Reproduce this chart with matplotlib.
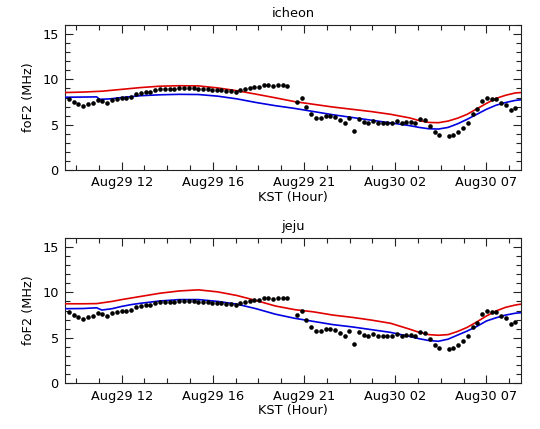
import numpy as np
import matplotlib
matplotlib.use("Agg")
import matplotlib.pyplot as plt
from matplotlib.ticker import FixedLocator, MultipleLocator

# ---- observed foF2 (same in both panels), hours since Aug29 00 KST ----
obs_t = [9.25, 9.5, 9.75, 10.0, 10.25, 10.5, 10.75, 11.0, 11.25, 11.5, 11.75, 12.0,
         12.25, 12.5, 12.75, 13.0, 13.25, 13.5, 13.75, 14.0, 14.25, 14.5, 14.75, 15.0,
         15.26, 15.5, 15.75, 15.99, 16.23, 16.48, 16.72, 16.96, 17.2, 17.45, 17.69, 17.93,
         18.17, 18.42, 18.66, 18.9, 19.15, 19.39, 19.63, 19.88, 20.14, 20.38, 20.62,
         21.11, 21.37, 21.61, 21.87, 22.11, 22.37, 22.62, 22.86, 23.1, 23.35, 23.61, 23.85,
         24.09, 24.35, 24.6, 24.84, 25.08, 25.34, 25.59, 25.83, 26.09, 26.33, 26.58, 26.82,
         27.06, 27.3, 27.56, 27.8, 28.05, 28.31, 28.55, 29.04, 29.28, 29.54, 29.78, 30.03,
         30.29, 30.53, 30.77, 31.02, 31.28, 31.52, 31.78, 32.02, 32.27, 32.51]
obs_v = [7.89, 7.48, 7.26, 7.11, 7.33, 7.44, 7.77, 7.66, 7.41, 7.70, 7.85, 7.92,
         7.96, 8.07, 8.36, 8.54, 8.58, 8.65, 8.80, 8.98, 8.91, 8.91, 8.91, 9.09,
         9.06, 9.06, 9.02, 8.98, 8.98, 8.91, 8.87, 8.80, 8.80, 8.76, 8.73, 8.62,
         8.80, 8.91, 9.06, 9.20, 9.17, 9.35, 9.39, 9.28, 9.39, 9.39, 9.32,
         7.52, 8.00, 6.97, 6.23, 5.76, 5.76, 6.01, 5.98, 5.87, 5.57, 5.17, 5.76,
         4.33, 5.61, 5.32, 5.24, 5.43, 5.17, 5.24, 5.21, 5.24, 5.39, 5.24, 5.32,
         5.35, 5.21, 5.68, 5.50, 4.88, 4.22, 3.85, 3.74, 3.85, 4.22, 4.66, 5.24,
         6.23, 6.68, 7.59, 8.00, 7.81, 7.81, 7.44, 7.22, 6.57, 6.79]

# ---- model curves ----
icheon_red_t = [9.05, 10, 11, 12, 13, 14, 15, 16, 17, 18, 19, 20, 21, 22, 23, 24, 25, 26,
                27, 27.5, 28, 28.5, 29, 29.5, 30, 30.5, 31, 31.5, 32, 32.5, 32.8]
icheon_red_v = [8.55, 8.6, 8.7, 8.9, 9.1, 9.25, 9.3, 9.28, 9.06, 8.75, 8.37, 7.97, 7.55,
                7.25, 6.95, 6.7, 6.45, 6.15, 5.75, 5.45, 5.25, 5.22, 5.4, 5.72, 6.15, 6.75,
                7.35, 7.9, 8.25, 8.5, 8.55]
icheon_blue_t = [9.05, 10, 10.7, 10.85, 11.4, 12, 13, 14, 15, 16, 17, 18, 19, 20, 21, 22,
                 23, 24, 25, 26, 27, 27.5, 28, 28.5, 29, 29.5, 30, 30.5, 31, 31.5, 32, 32.5, 32.8]
icheon_blue_v = [8.03, 8.05, 8.07, 7.8, 7.85, 8.0, 8.2, 8.3, 8.35, 8.33, 8.15, 7.85, 7.45,
                 7.1, 6.8, 6.45, 6.1, 5.8, 5.5, 5.2, 4.9, 4.7, 4.55, 4.52, 4.7, 5.1, 5.6,
                 6.15, 6.7, 7.15, 7.45, 7.68, 7.75]

jeju_red_t = [9.05, 10, 10.7, 11.5, 12, 13, 14, 15, 16, 17, 18, 19, 20, 21, 22, 23, 24, 25,
              26, 27, 27.5, 28, 28.5, 29, 29.5, 30, 30.5, 31, 31.5, 32, 32.5, 32.8]
jeju_red_v = [8.74, 8.74, 8.76, 9.0, 9.2, 9.55, 9.9, 10.15, 10.27, 10.05, 9.65, 9.1, 8.5,
              8.1, 7.85, 7.5, 7.25, 6.95, 6.6, 5.95, 5.6, 5.35, 5.28, 5.35, 5.7, 6.15, 6.75,
              7.4, 7.95, 8.35, 8.6, 8.7]
jeju_blue_t = [9.05, 10, 10.7, 10.97, 11.5, 12, 12.5, 13, 14, 15, 16, 17, 18, 19, 20, 21, 22,
               23, 24, 25, 26, 27, 27.5, 28, 28.5, 29, 29.5, 30, 30.5, 31, 31.5, 32, 32.5, 32.8]
jeju_blue_v = [8.2, 8.22, 8.3, 8.05, 8.2, 8.45, 8.65, 8.8, 9.05, 9.2, 9.2, 9.0, 8.7, 8.2, 7.6,
               7.15, 6.8, 6.45, 6.2, 5.9, 5.6, 5.15, 4.9, 4.7, 4.62, 4.85, 5.3, 5.75, 6.25,
               6.85, 7.2, 7.5, 7.7, 7.76]

xtick_pos = [12, 16.75, 21.5, 26.25, 31]
xtick_labels = ['Aug29 12', 'Aug29 16', 'Aug29 21', 'Aug30 02', 'Aug30 07']
titles = ['icheon', 'jeju']

plt.rcParams['font.family'] = ['DejaVu Sans']
FS = 9.3
RED = '#e00000'
BLUE = '#0000e0'

fig = plt.figure(figsize=(5.4, 4.29), dpi=100)
ax1 = fig.add_axes([0.1204, 0.6037, 0.8444, 0.3380])
ax2 = fig.add_axes([0.1204, 0.1065, 0.8444, 0.3394])

panels = [(ax1, icheon_red_t, icheon_red_v, icheon_blue_t, icheon_blue_v),
          (ax2, jeju_red_t, jeju_red_v, jeju_blue_t, jeju_blue_v)]

xmin, xmax = 9.05, 32.8
minor_step = 4.75 / 4
minor = [12 + k * minor_step for k in range(-3, 20)]
minor = [m for m in minor if xmin <= m <= xmax]

for (ax, rt, rv, bt, bv), title in zip(panels, titles):
    ax.plot(rt, rv, color=RED, lw=1.2, zorder=3)
    ax.plot(bt, bv, color=BLUE, lw=1.2, zorder=3)
    ax.plot(obs_t, obs_v, 'o', color='black', ms=3.3, mec='none', zorder=4)
    ax.set_xlim(xmin, xmax)
    ax.set_ylim(0, 16)
    ax.xaxis.set_major_locator(FixedLocator(xtick_pos))
    ax.set_xticklabels(xtick_labels, fontsize=FS)
    ax.xaxis.set_minor_locator(FixedLocator(minor))
    ax.yaxis.set_major_locator(FixedLocator([0, 5, 10, 15]))
    ax.yaxis.set_minor_locator(MultipleLocator(1))
    ax.tick_params(axis='both', which='both', direction='in', top=True, right=True,
                   labelsize=FS, color='#222222', width=0.8)
    ax.tick_params(axis='both', which='major', length=6, pad=4.5)
    ax.tick_params(axis='both', which='minor', length=3.5)
    for s in ax.spines.values():
        s.set_color('#222222')
        s.set_linewidth(0.8)
    ax.set_ylabel('foF2 (MHz)', fontsize=FS, labelpad=5)
    ax.set_xlabel('KST (Hour)', fontsize=FS, labelpad=1)
    ax.set_title(title, fontsize=FS, pad=5.5)

fig.savefig('out.png', dpi=100)
